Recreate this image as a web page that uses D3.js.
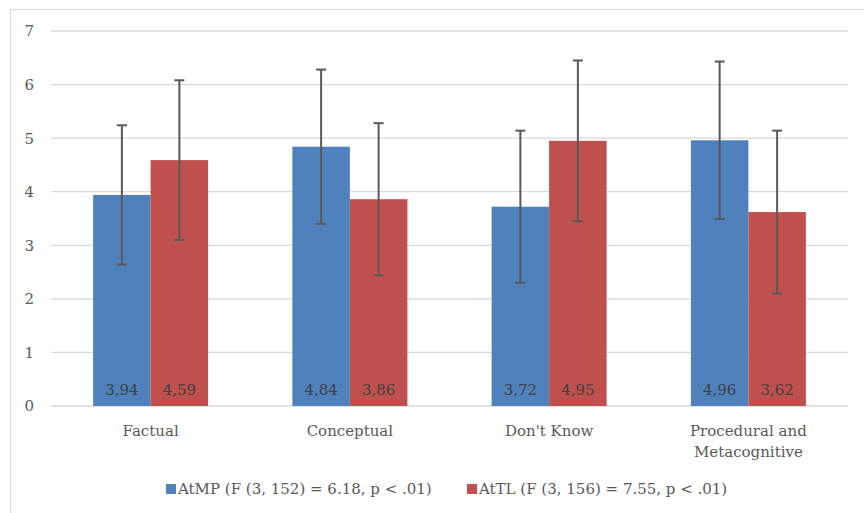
<!DOCTYPE html>
<html><head><meta charset="utf-8">
<script src="https://cdn.jsdelivr.net/npm/d3@7"></script>
<style>body{margin:0;background:#fff}svg{display:block}text{font-family:"DejaVu Serif","Liberation Serif",serif}</style>
</head><body><svg id="c" width="864" height="513"></svg>
<script>
const categories = ["Factual","Conceptual","Don't Know","Procedural and Metacognitive"];
const seriesNames = ["AtMP (F (3, 152) = 6.18, p < .01)","AtTL (F (3, 156) = 7.55, p < .01)"];
const atmpMeans = [3.94, 4.84, 3.72, 4.96];
const attlMeans = [4.59, 3.86, 4.95, 3.62];
const atmpSD = [1.30, 1.44, 1.42, 1.47];
const attlSD = [1.49, 1.42, 1.50, 1.52];
const labelsAtmp = ["3,94","4,84","3,72","4,96"];
const labelsAttl = ["4,59","3,86","4,95","3,62"];
const yTicks = [0,1,2,3,4,5,6,7];
const colors = ["#4f81bd","#c0504d"];
const FS = 15;

const svg = d3.select("#c");
svg.append("rect").attr("x",10.5).attr("y",9.5).attr("width",880).attr("height",530)
  .attr("fill","#fff").attr("stroke","#d9d9d9");

const L=51,R=848,T=31,B=406;
const x = d3.scaleBand().domain(categories).range([L,R]).paddingInner(0).paddingOuter(0);
const inner = d3.scaleBand().domain([0,1]).range([0,115]);
const y = d3.scaleLinear().domain([0,7]).range([B,T]);

// gridlines
svg.append("g").selectAll("line").data(yTicks).join("line")
  .attr("x1",L).attr("x2",R).attr("y1",d=>y(d)).attr("y2",d=>y(d))
  .attr("stroke","#d9d9d9").attr("stroke-width",1.3);

// y labels
svg.append("g").selectAll("text").data(yTicks).join("text")
  .attr("x",34).attr("y",d=>y(d)).attr("dy","0.36em").attr("text-anchor","end")
  .attr("font-size",FS).attr("fill","#595959").text(d=>d);

const data = [];
categories.forEach((c,i)=>{
  data.push({c,s:0,v:atmpMeans[i],sd:atmpSD[i],lab:labelsAtmp[i]});
  data.push({c,s:1,v:attlMeans[i],sd:attlSD[i],lab:labelsAttl[i]});
});
const gx = d => x(d.c) + (x.bandwidth()-115)/2 + inner(d.s);

svg.append("g").selectAll("rect").data(data).join("rect")
  .attr("x",gx).attr("width",inner.bandwidth()).attr("y",d=>y(d.v)).attr("height",d=>B-y(d.v))
  .attr("fill",d=>colors[d.s]);

// error bars
const eb = svg.append("g").attr("stroke","#595959").attr("stroke-width",2);
data.forEach(d=>{
  const cx = gx(d)+inner.bandwidth()/2;
  eb.append("line").attr("x1",cx).attr("x2",cx).attr("y1",y(d.v+d.sd)).attr("y2",y(d.v-d.sd));
  [d.v+d.sd,d.v-d.sd].forEach(v=>eb.append("line").attr("x1",cx-5).attr("x2",cx+5).attr("y1",y(v)).attr("y2",y(v)));
});

// value labels
svg.append("g").selectAll("text").data(data).join("text")
  .attr("x",d=>gx(d)+inner.bandwidth()/2).attr("y",394.5).attr("text-anchor","middle")
  .attr("font-size",FS).attr("fill","#404040").text(d=>d.lab);

// x labels
const xl = svg.append("g");
categories.forEach(c=>{
  const words = c==="Procedural and Metacognitive" ? ["Procedural and","Metacognitive"] : [c];
  words.forEach((w,k)=>xl.append("text").attr("x",x(c)+x.bandwidth()/2).attr("y",436+k*21)
    .attr("text-anchor","middle").attr("font-size",FS).attr("fill","#595959").text(w));
});

// legend
const lg = svg.append("g");
const lx = [166,467];
seriesNames.forEach((n,i)=>{
  lg.append("rect").attr("x",lx[i]).attr("y",484).attr("width",10).attr("height",10).attr("fill",colors[i]);
  lg.append("text").attr("x",lx[i]+12).attr("y",494).attr("font-size",FS).attr("fill","#595959").text(n);
});
</script></body></html>
